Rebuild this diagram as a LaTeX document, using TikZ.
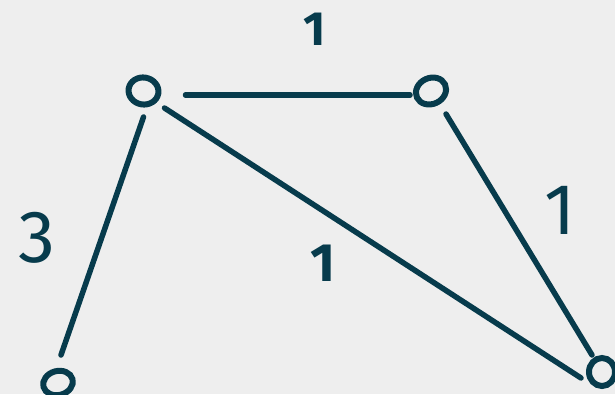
\documentclass[tikz,border=0pt]{standalone}
\usepackage{fontspec}
\setsansfont{Fira Sans}
\usetikzlibrary{shapes.geometric}
\definecolor{ink}{HTML}{073B4C}
\definecolor{bg}{HTML}{EEEEEE}
\tikzset{
  vert/.style={ellipse, draw=ink, line width=6pt, inner sep=0pt},
  edge/.style={draw=ink, line width=5.5pt, line cap=round},
  lbl/.style={text=ink, inner sep=0pt}
}
\begin{document}
\begin{tikzpicture}[x=1pt, y=-1pt]
\fill[bg] (0,0) rectangle (615,394);
\useasboundingbox (0,0) rectangle (615,394);
\node[vert, minimum width=30pt, minimum height=27pt, rotate=-10] (A) at (143.5,91) {};
\node[vert, minimum width=31pt, minimum height=26pt, rotate=25] (B) at (431,91) {};
\node[vert, minimum width=30pt, minimum height=24pt, rotate=15] (C) at (58,383) {};
\node[vert, minimum width=26pt, minimum height=28pt] (D) at (602,372) {};
\draw[edge] ([shift={(42,4)}]A.center) -- ([shift={(-21,4)}]B.center);
\draw[edge] ([shift={(0,26)}]A.center) -- ([shift={(3,-28)}]C.center);
\draw[edge] ([shift={(21,17)}]A.center) -- ([shift={(-21,6)}]D.center);
\draw[edge] ([shift={(15,23)}]B.center) -- ([shift={(-10,-17)}]D.center);
\node[lbl, font=\sffamily\bfseries\fontsize{48}{48}\selectfont] (l1) at (315,29) {1};
\node[lbl, font=\sffamily\fontsize{74}{74}\selectfont] (l3) at (37,238) {3};
\node[lbl, font=\sffamily\bfseries\fontsize{54}{54}\selectfont] (l2) at (323,263) {1};
\node[lbl, font=\sffamily\fontsize{72}{72}\selectfont] (l4) at (560,210) {1};
\end{tikzpicture}
\end{document}
